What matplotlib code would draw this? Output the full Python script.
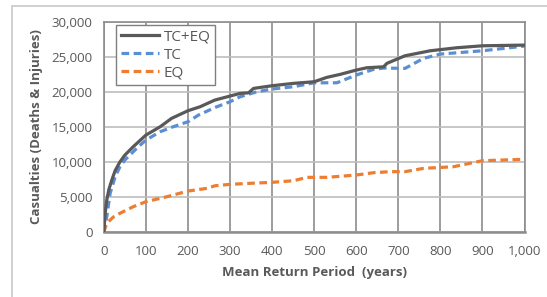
import matplotlib.pyplot as plt
from matplotlib.patches import Rectangle
from matplotlib.ticker import FuncFormatter

# values (return period in years, casualties)
tc_eq_years = [0, 3, 7, 12, 19, 27, 38, 50, 70, 100, 134, 161, 200, 229, 264, 300, 324,
               344, 356, 400, 451, 500, 530, 562, 600, 625, 665, 673, 716, 776, 839,
               900, 1000]
tc_eq_vals = [0, 2600, 4600, 6100, 7450, 8800, 10000, 11000, 12200, 13850, 15040,
              16230, 17320, 17890, 18840, 19410, 19790, 19870, 20500, 20880, 21220,
              21450, 22070, 22500, 23110, 23440, 23580, 24070, 25150, 25860, 26290,
              26570, 26670]

tc_years = [0, 4, 7, 15, 27, 38, 50, 78, 100, 134, 165, 200, 225, 265, 300, 324, 364,
            400, 451, 500, 554, 600, 641, 665, 716, 760, 800, 900, 1000]
tc_vals = [0, 1200, 2220, 5550, 7920, 9300, 10300, 11960, 13140, 14330, 15040, 15750,
           16700, 17800, 18600, 19310, 20020, 20410, 20740, 21300, 21300, 22400,
           23210, 23400, 23350, 24780, 25390, 25860, 26530]

eq_years = [0, 4, 11, 22, 38, 70, 100, 150, 200, 245, 265, 300, 348, 400, 451, 483,
            530, 600, 641, 681, 716, 760, 831, 900, 1000]
eq_vals = [0, 800, 1510, 2150, 2700, 3650, 4360, 5070, 5880, 6260, 6640, 6830, 6980,
           7120, 7350, 7830, 7830, 8160, 8490, 8640, 8640, 9110, 9340, 10200, 10400]

txt = '#595959'
plt.rcParams['font.family'] = ['Open Sans', 'DejaVu Sans']

fig = plt.figure(figsize=(5.47, 2.97), dpi=100)
ax = fig.add_axes([0.1898, 0.2178, 0.7691, 0.7091])

# outer frame (cropped on the right and bottom)
fig.patches.append(Rectangle((12 / 547, -0.1), 1.2, 1 - 6 / 297 + 0.1,
                             transform=fig.transFigure, fill=False,
                             edgecolor='#c8c8c8', linewidth=1.2))

ax.plot(tc_eq_years, tc_eq_vals, color='#595959', lw=2.3, label='TC+EQ', zorder=4)
ax.plot(tc_years, tc_vals, color='#5b8fd3', lw=2.3, dashes=(2.4, 1.4), label='TC', zorder=3)
ax.plot(eq_years, eq_vals, color='#ed7d31', lw=2.3, dashes=(2.4, 1.4), label='EQ', zorder=3)

ax.set_xlim(0, 1000)
ax.set_ylim(0, 30000)
ax.set_xticks(range(0, 1001, 100))
ax.set_yticks(range(0, 30001, 5000))
ax.xaxis.set_major_formatter(FuncFormatter(lambda v, p: f'{int(v):,}'))
ax.yaxis.set_major_formatter(FuncFormatter(lambda v, p: f'{int(v):,}'))
ax.tick_params(length=0, labelsize=9.5, colors=txt)
ax.tick_params(axis='y', pad=8)
ax.tick_params(axis='x', pad=9)

ax.grid(axis='x', color='#8c8c8c', lw=1.2)
ax.grid(axis='y', color='#bdbdbd', lw=1.2)
ax.set_axisbelow(True)
for s in ax.spines.values():
    s.set_color('#8c8c8c')
    s.set_linewidth(1.2)
ax.spines['bottom'].set_linewidth(1.8)

ax.set_xlabel('Mean Return Period  (years)', fontsize=9.5, fontweight='bold', color=txt, labelpad=6)
ax.set_ylabel('Casualties (Deaths & Injuries)', fontsize=9.5, fontweight='bold', color=txt, labelpad=6)

leg = ax.legend(loc='upper left', bbox_to_anchor=(0.029, 0.984), borderaxespad=0,
                fontsize=11, frameon=True, fancybox=False, handlelength=2.5,
                handletextpad=0.3, labelspacing=0.2, borderpad=0.3, labelcolor=txt)
leg.get_frame().set_edgecolor('#7f7f7f')
leg.get_frame().set_linewidth(1.0)
leg.get_frame().set_alpha(1)

fig.savefig('out.png', dpi=100)
